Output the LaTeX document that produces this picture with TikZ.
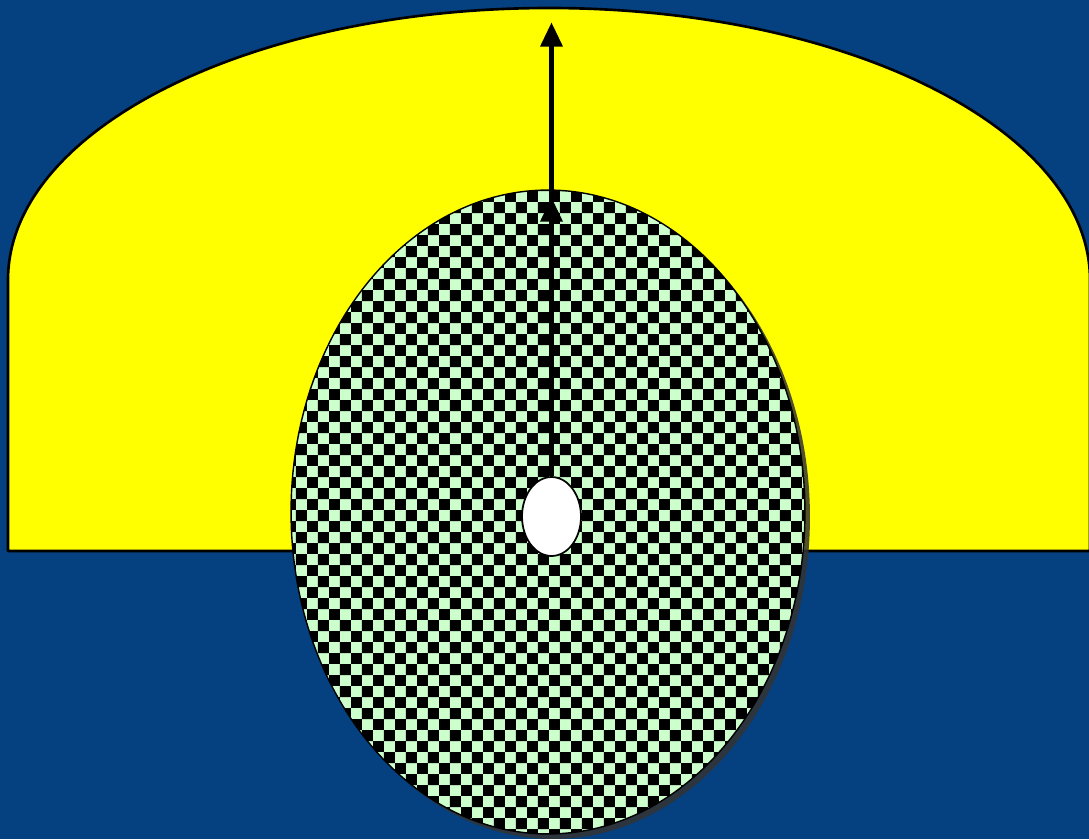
\documentclass[tikz,border=0pt]{standalone}
\usetikzlibrary{arrows.meta,shapes.geometric,patterns.meta,shadows}

\definecolor{fondo}{RGB}{5,64,128}
\definecolor{amarillo}{RGB}{255,255,0}
\definecolor{menta}{RGB}{204,255,204}

% tablero de ajedrez grande (casilla de 11 px)
\tikzdeclarepattern{
  name=tablero, type=uncolored,
  bounding box={(0,0) and (12.5pt,12.5pt)},
  tile size={(12.5pt,12.5pt)},
  code={
    \fill (0,0) rectangle (6.25pt,6.25pt);
    \fill (6.25pt,6.25pt) rectangle (12.5pt,12.5pt);
  }
}

\begin{document}
\begin{tikzpicture}[x=0.02cm, y=-0.02cm, >={Triangle[length=14pt,width=12pt]},
                    line join=round]

  %--- parámetros (1 unidad = 1 px) ---
  \def\Cx{548}   % centro del disco
  \def\Cy{512}
  \def\Rx{541}   % radios de la cúpula
  \def\Ry{272}

  %--- fondo ---
  \useasboundingbox (0,0) rectangle (1089,839);
  \fill[fondo] (0,0) rectangle (1089,839);

  %--- cúpula amarilla ---
  \begin{scope}
    \clip (0,0) rectangle (1089,839);
    \filldraw[fill=amarillo, draw=black, line width=1.5pt]
      (8,551) -- (8,280) arc[start angle=180, end angle=360,
                             x radius=\Rx, y radius=\Ry]
      -- (1090,551) -- cycle;
  \end{scope}

  %--- disco a cuadros ---
  \node[ellipse, draw=black, line width=0.8pt, inner sep=0pt,
        minimum width=10.28cm, minimum height=12.88cm,
        drop shadow={shadow xshift=0.1cm, shadow yshift=-0.1cm,
                     opacity=0.85, fill=black!80},
        preaction={fill=menta}, pattern=tablero, pattern color=black]
    (disco) at (\Cx,\Cy) {};

  %--- agujero central ---
  \node[ellipse, draw=black, fill=white, line width=1pt, inner sep=0pt,
        minimum width=1.18cm, minimum height=1.58cm]
    (agujero) at (551.5,516.5) {};

  %--- flechas ---
  \coordinate (borde) at (551.5,197);
  \coordinate (cima) at (551.5,22);
  \draw[->, line width=3.4pt] (agujero.north) -- (borde);
  \draw[->, line width=3.4pt] (borde) -- (cima);

\end{tikzpicture}
\end{document}
